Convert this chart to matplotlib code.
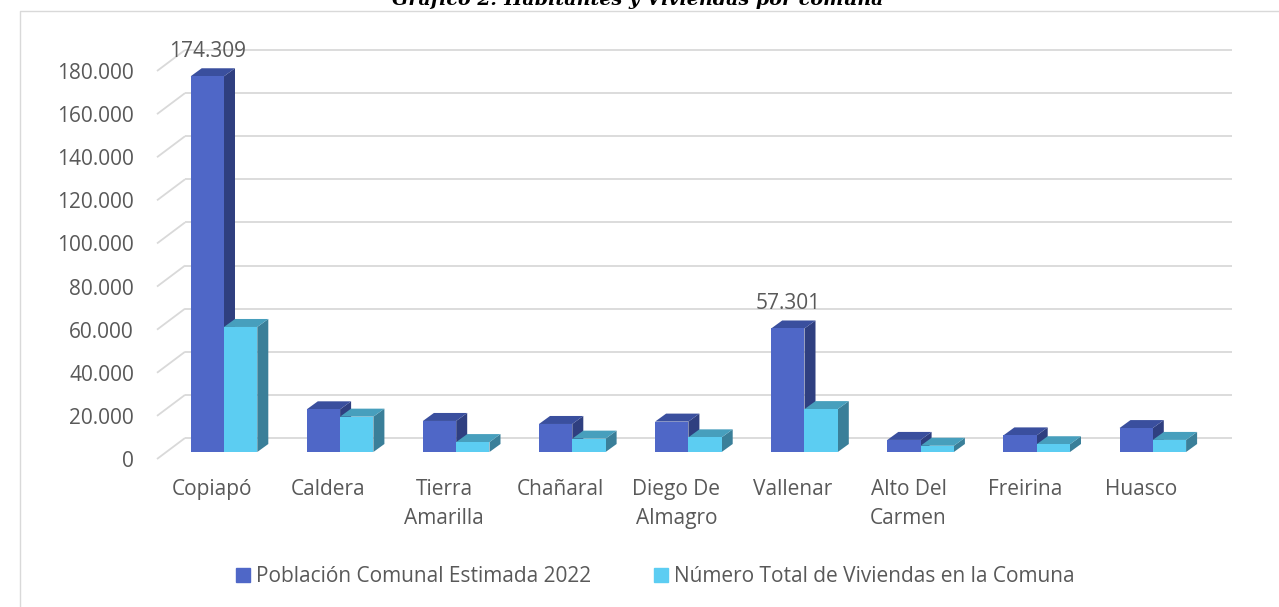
import matplotlib
matplotlib.use('Agg')
import matplotlib.pyplot as plt
from matplotlib.patches import Polygon, Patch
from matplotlib.lines import Line2D

# data
comunas = ['Copiapó', 'Caldera', 'Tierra\nAmarilla', 'Chañaral', 'Diego De\nAlmagro',
           'Vallenar', 'Alto Del\nCarmen', 'Freirina', 'Huasco']
poblacion = [174309, 19800, 14400, 13000, 14100, 57301, 5600, 7700, 11100]
viviendas = [58000, 16400, 4600, 6200, 6800, 19900, 2900, 3600, 5600]
series_names = ['Población Comunal Estimada 2022', 'Número Total de Viviendas en la Comuna']
labelled = [0, 5]  # bars of poblacion with a value label
yticks = list(range(0, 180001, 20000))

title = 'Gráfico 2: Habitantes y Viviendas por comuna'

# colours: front, top, side
blue = ('#4F67C7', '#3A4F9E', '#2F3F80')
cyan = ('#5CCDF2', '#479FBD', '#3A7F99')
grid_col = '#D9D9D9'
text_col = '#595959'

plt.rcParams['font.family'] = ['Open Sans', 'DejaVu Sans']
plt.rcParams['font.size'] = 15

W, H = 1279, 607
fig = plt.figure(figsize=(W / 100, H / 100), dpi=100)

# layout in pixels, measured on the original picture
ax_l, ax_r, ax_t, ax_b = 157, 1240, 30, 470
x0_px, cat_px = 224, 116.1
y0_px, px_per_unit = 459, 388 / 180000

ax = fig.add_axes([ax_l / W, 1 - ax_b / H, (ax_r - ax_l) / W, (ax_b - ax_t) / H])
ax.set_xlim((ax_l - x0_px) / cat_px, (ax_r - x0_px) / cat_px)
ax.set_ylim(-(ax_b - y0_px) / px_per_unit, (y0_px - ax_t) / px_per_unit)


def dxp(p):
    return p / cat_px


def dyp(p):
    return p / px_per_unit


# back wall gridlines + side diagonals (pseudo 3D)
xl = ax.get_xlim()[0]
wall_dx, wall_dy = dxp(28), dyp(21)
x_end = (1232 - x0_px) / cat_px
for g in yticks:
    ax.plot([xl, xl + wall_dx], [g, g + wall_dy], color=grid_col, lw=1.3, zorder=1,
            solid_capstyle='butt', clip_on=False)
    ax.plot([xl + wall_dx, x_end], [g + wall_dy, g + wall_dy], color=grid_col, lw=1.3,
            zorder=1, solid_capstyle='butt', clip_on=False)

# bars
bw = dxp(33.3)
bar_dx, bar_dy = dxp(11), dyp(8)
base = dyp(7)

for s, (vals, cols) in enumerate([(poblacion, blue), (viviendas, cyan)]):
    z = 3 + 2 * s
    for i, v in enumerate(vals):
        x = i - bw + s * bw
        top = base + v
        side = [(x + bw, base), (x + bw + bar_dx, base + bar_dy),
                (x + bw + bar_dx, top + bar_dy), (x + bw, top)]
        lid = [(x, top), (x + bw, top), (x + bw + bar_dx, top + bar_dy), (x + bar_dx, top + bar_dy)]
        ax.add_patch(Polygon(side, closed=True, facecolor=cols[2], edgecolor='none', zorder=z))
        ax.add_patch(Polygon(lid, closed=True, facecolor=cols[1], edgecolor='none', zorder=z))
    ax.bar([i - bw + s * bw for i in range(len(vals))], vals, width=bw, bottom=base,
           align='edge', color=cols[0], edgecolor='none', zorder=z + 1)

for i in labelled:
    v = poblacion[i]
    ax.annotate(f'{v:,}'.replace(',', '.'), xy=(i - bw / 2, base + v + bar_dy),
                xytext=(0, 17 * 0.72), textcoords='offset points',
                ha='center', va='center', color=text_col, fontsize=15, zorder=10)

# axes
ax.set_yticks(yticks)
ax.set_yticklabels([f'{t:,}'.replace(',', '.') for t in yticks], color=text_col)
ax.tick_params(axis='y', length=0, pad=23 * 0.72)
ax.set_xticks([i - dxp(12) for i in range(len(comunas))])
ax.set_xticklabels(comunas, color=text_col)
ax.tick_params(axis='x', length=0, pad=9 * 0.72)
for lbl in ax.get_xticklabels():
    lbl.set_linespacing(1.5)
for sp in ax.spines.values():
    sp.set_visible(False)
ax.patch.set_visible(False)

# chart border (runs off the image on the right and bottom)
fig.add_artist(Line2D([20 / W, 20 / W, 1], [0, 1 - 11 / H, 1 - 11 / H],
                      transform=fig.transFigure, color=grid_col, lw=1))

# title, mostly cut off at the top like in the source
fig.text(638 / W, 1 - 5 / H, title, ha='center', va='baseline',
         fontfamily='DejaVu Serif', fontweight='bold', style='italic', fontsize=13.8, color='black')

handles = [Patch(color=blue[0]), Patch(color=cyan[0])]
fig.legend(handles, series_names, loc='center', bbox_to_anchor=(655.5 / W, 1 - 577 / H),
           ncol=2, frameon=False, handlelength=0.68, handleheight=0.68, handletextpad=0.3,
           columnspacing=3.0, borderpad=0, labelcolor=text_col, fontsize=15)

fig.savefig('out.png', dpi=100)
